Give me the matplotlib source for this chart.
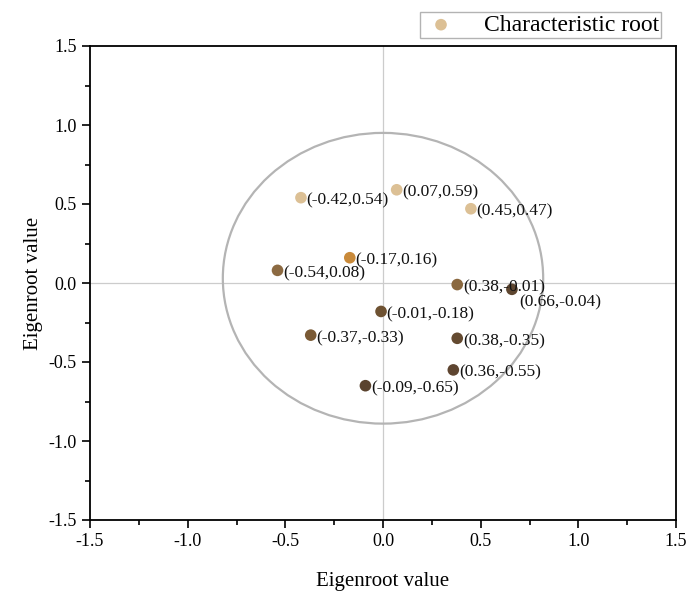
import matplotlib.pyplot as plt
from matplotlib.patches import Ellipse
from matplotlib.ticker import MultipleLocator

plt.rcParams['font.family'] = ['Liberation Serif', 'DejaVu Serif']
plt.rcParams['axes.unicode_minus'] = False

# characteristic roots
root_x = [-0.42, 0.07, 0.45, -0.17, -0.54, 0.38, 0.66, -0.01, -0.37, 0.38, 0.36, -0.09]
root_y = [0.54, 0.59, 0.47, 0.16, 0.08, -0.01, -0.04, -0.18, -0.33, -0.35, -0.55, -0.65]
root_colors = ['#dcc095', '#dcc095', '#dcc095', '#c98a3a', '#8c6a42', '#8a683f',
               '#5e4630', '#6e5232', '#7a5a35', '#644a30', '#5e4530', '#5a432e']
# label offsets (points) for each annotation
label_offsets = [(4, -2)] * 6 + [(5.5, -9.5)] + [(4, -2)] * 5

fig = plt.figure(figsize=(6.89, 5.95), dpi=100)
ax = fig.add_axes([90 / 689, 1 - 520 / 595, 586 / 689, 474 / 595])

ax.axhline(0, color='#cccccc', lw=0.9, zorder=1)
ax.axvline(0, color='#cccccc', lw=0.9, zorder=1)
ax.add_patch(Ellipse((0, 0.03), 1.64, 1.84, fill=False, ec='#b4b4b4', lw=1.6, zorder=1))

ax.scatter(root_x, root_y, s=70, c=root_colors, edgecolors='none', zorder=3,
           label='Characteristic root')
for xv, yv, off in zip(root_x, root_y, label_offsets):
    ax.annotate(f'({xv:.2f},{yv:.2f})', (xv, yv), xytext=off, textcoords='offset points',
                ha='left', va='center', fontsize=12.5, color='#111111', zorder=4)

ax.set_xlim(-1.5, 1.5)
ax.set_ylim(-1.5, 1.5)
ax.xaxis.set_major_locator(MultipleLocator(0.5))
ax.yaxis.set_major_locator(MultipleLocator(0.5))
ax.xaxis.set_minor_locator(MultipleLocator(0.25))
ax.yaxis.set_minor_locator(MultipleLocator(0.25))
ax.tick_params(which='both', direction='out', top=False, right=False, width=1.2, labelsize=13)
ax.tick_params(which='major', length=6)
ax.tick_params(which='minor', length=3.5)
for sp in ax.spines.values():
    sp.set_linewidth(1.3)

ax.set_xlabel('Eigenroot value', fontsize=15, labelpad=16)
ax.set_ylabel('Eigenroot value', fontsize=15, labelpad=4)

leg = fig.legend(loc='upper right', bbox_to_anchor=(661 / 689, 1 - 12 / 595), fontsize=17,
                 fancybox=False, edgecolor='#a0a0a0', borderaxespad=0, handletextpad=1.0,
                 borderpad=0.1, handlelength=1.6, markerscale=1.0)
leg.get_frame().set_linewidth(1.0)

fig.savefig('out.png', dpi=100)
